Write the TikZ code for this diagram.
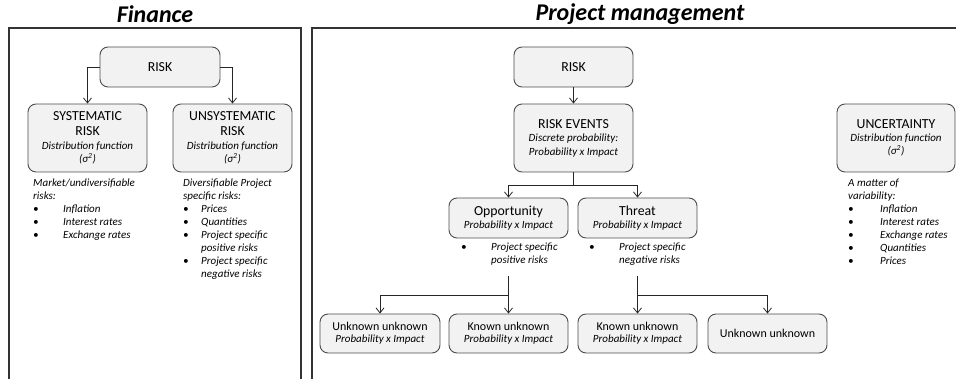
\documentclass[tikz,border=0pt]{standalone}
\usepackage{fontspec}
\setmainfont{Carlito}
\usetikzlibrary{arrows.meta}

\newcommand{\bul}[2]{\makebox[#1][l]{\textbullet}#2}
\newcommand{\sq}{(σ\textsuperscript{2})}
\newcommand{\sm}{\fontsize{11}{13}\selectfont\itshape}

\tikzset{
  frame/.style={draw=black!80, line width=1.1pt},
  rbox/.style={draw=black!70, fill=black!5, line width=0.9pt, rounded corners=8pt,
    align=center, inner sep=2pt, font=\fontsize{13.8}{15}\selectfont},
  lowbox/.style={rbox, minimum width=119pt, minimum height=39pt,
    font=\fontsize{12}{14}\selectfont},
  conn/.style={draw=black!85, line width=0.8pt},
  arr/.style={conn, -{Straight Barb[length=5pt,width=8pt]}},
  list/.style={align=left, inner sep=0pt, anchor=north west,
    font=\fontsize{11}{13}\selectfont\itshape},
  title/.style={font=\fontsize{24}{28}\selectfont\bfseries\itshape}
}

\begin{document}
\begin{tikzpicture}[x=1pt,y=-1pt]
\useasboundingbox (0,0) rectangle (956,379);

% panel frames
\draw[frame] (9,385) -- (9,28) -- (301,28) -- (301,385);
\draw[frame] (312,385) -- (312,28) -- (962,28);

% titles
\node[title] (tfin) at (155,14) {Finance};
\node[title] (tpm) at (640,14) {Project management};

% ---------- Finance ----------
\node[rbox, minimum width=120pt, minimum height=40pt] (frisk) at (160,67) {RISK};
\node[rbox, minimum width=119pt, minimum height=68pt] (fsys) at (87.5,138)
  {SYSTEMATIC\\RISK\\[-1pt]{\sm Distribution function}\\[-2pt]{\sm\sq}};
\node[rbox, minimum width=119pt, minimum height=68pt] (funs) at (232.5,138)
  {UNSYSTEMATIC\\RISK\\[-1pt]{\sm Distribution function}\\[-2pt]{\sm\sq}};
\draw[arr] (frisk.west) -| (fsys.north);
\draw[arr] (frisk.east) -| (funs.north);

\node[list] (lsys) at (33,179) {Market/undiversifiable\\risks:\\
  \bul{30pt}{Inflation}\\\bul{30pt}{Interest rates}\\\bul{30pt}{Exchange rates}};
\node[list] (luns) at (183,179) {Diversifiable Project\\specific risks:\\
  \bul{18pt}{Prices}\\\bul{18pt}{Quantities}\\\bul{18pt}{Project specific}\\
  \hspace*{18pt}positive risks\\\bul{18pt}{Project specific}\\\hspace*{18pt}negative risks};

% ---------- Project management ----------
\node[rbox, minimum width=119pt, minimum height=40pt] (prisk) at (573.5,67) {RISK};
\node[rbox, minimum width=119pt, minimum height=68pt] (pev) at (573.5,138)
  {RISK EVENTS\\[-2pt]{\sm Discrete probability:}\\[-1pt]{\sm Probability x Impact}};
\draw[arr] (prisk) -- (pev);

\node[rbox, minimum width=119pt, minimum height=40pt] (opp) at (508.5,218)
  {Opportunity\\[-2pt]{\sm Probability x Impact}};
\node[rbox, minimum width=119pt, minimum height=40pt] (thr) at (637.5,218)
  {Threat\\[-2pt]{\sm Probability x Impact}};
\coordinate (j1) at ([yshift=-13pt]pev.south);
\draw[conn] (pev.south) -- (j1);
\draw[arr] (j1) -| (opp.north);
\draw[arr] (j1) -| (thr.north);

\node[list] (lopp) at (461,243) {\bul{30pt}{Project specific}\\\hspace*{30pt}positive risks};
\node[list] (lthr) at (589,243) {\bul{30pt}{Project specific}\\\hspace*{30pt}negative risks};

\node[lowbox, minimum width=120pt] (uu1) at (380,333.5)
  {Unknown unknown\\[-2pt]{\sm Probability x Impact}};
\node[lowbox] (ku1) at (508.5,333.5)
  {Known unknown\\[-2pt]{\sm Probability x Impact}};
\node[lowbox] (ku2) at (637.5,333.5)
  {Known unknown\\[-2pt]{\sm Probability x Impact}};
\node[lowbox] (uu2) at (767.5,333.5)
  {Unknown unknown};

\coordinate (o1) at (508.5,276);
\coordinate (o2) at (508.5,295);
\coordinate (t1) at (637.5,276);
\coordinate (t2) at (637.5,295);
\draw[arr] (o1) -- (ku1.north);
\draw[arr] (o2) -| (uu1.north);
\draw[arr] (t1) -- (ku2.north);
\draw[arr] (t2) -| (uu2.north);

\node[rbox, minimum width=118pt, minimum height=68pt] (unc) at (896,138)
  {UNCERTAINTY\\[-2pt]{\sm Distribution function}\\[-2pt]{\sm\sq}};
\node[list] (lunc) at (848,179) {A matter of\\variability:\\
  \bul{32pt}{Inflation}\\\bul{32pt}{Interest rates}\\\bul{32pt}{Exchange rates}\\
  \bul{32pt}{Quantities}\\\bul{32pt}{Prices}};
\end{tikzpicture}
\end{document}
